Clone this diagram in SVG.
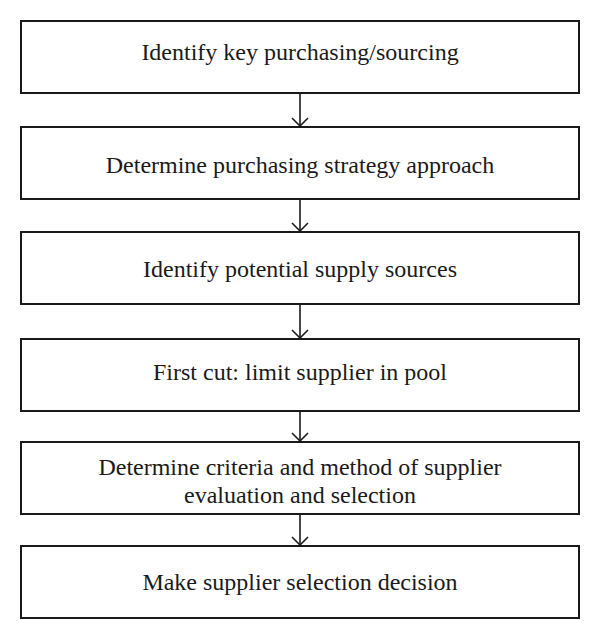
<svg xmlns="http://www.w3.org/2000/svg" width="600" height="639" viewBox="0 0 600 639">
<defs>
<style>
.box{fill:#fff;stroke:#1a1a1a;stroke-width:2}
.t{font-family:"Liberation Serif","Times New Roman",serif;font-size:24px;fill:#1a1a1a;text-anchor:middle}
.c{stroke:#1a1a1a;stroke-width:1.6;fill:none}
</style>
<marker id="ah" viewBox="0 0 10 18" refX="9" refY="9" markerWidth="10" markerHeight="18" markerUnits="userSpaceOnUse" orient="auto">
<path d="M1,1 L9,9 L1,17" fill="none" stroke="#1a1a1a" stroke-width="1.6"/>
</marker>
</defs>
<rect width="600" height="639" fill="#fff"/>
<g id="connectors">
<line class="c" x1="300" y1="93" x2="300" y2="126" marker-end="url(#ah)"/>
<line class="c" x1="300" y1="199" x2="300" y2="231" marker-end="url(#ah)"/>
<line class="c" x1="300" y1="304" x2="300" y2="338" marker-end="url(#ah)"/>
<line class="c" x1="300" y1="411" x2="300" y2="441" marker-end="url(#ah)"/>
<line class="c" x1="300" y1="514" x2="300" y2="545" marker-end="url(#ah)"/>
</g>
<g id="n1"><rect class="box" x="21" y="21" width="558" height="72"/><text class="t" x="300" y="60">Identify key purchasing/sourcing</text></g>
<g id="n2"><rect class="box" x="21" y="127" width="558" height="72"/><text class="t" x="300" y="173">Determine purchasing strategy approach</text></g>
<g id="n3"><rect class="box" x="21" y="232" width="558" height="72"/><text class="t" x="300" y="277">Identify potential supply sources</text></g>
<g id="n4"><rect class="box" x="21" y="339" width="558" height="72"/><text class="t" x="300" y="380">First cut: limit supplier in pool</text></g>
<g id="n5"><rect class="box" x="21" y="442" width="558" height="72"/><text class="t" x="300" y="475">Determine criteria and method of supplier</text><text class="t" x="300" y="503">evaluation and selection</text></g>
<g id="n6"><rect class="box" x="21" y="546" width="558" height="72"/><text class="t" x="300" y="590">Make supplier selection decision</text></g>
</svg>
